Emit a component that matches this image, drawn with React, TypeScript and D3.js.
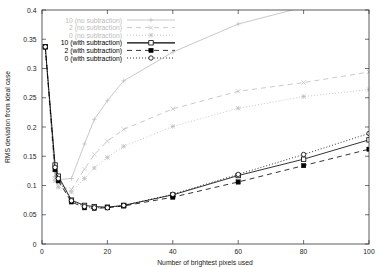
import React from 'react';
import * as d3 from 'd3';

const xs = [1, 4, 5, 9, 13, 16, 20, 25, 40, 60, 80, 100];

const noSub10 = [0.337, 0.115, 0.11, 0.112, 0.171, 0.213, 0.245, 0.279, 0.328, 0.376, 0.405, 0.43];
const noSub2 = [0.337, 0.112, 0.1, 0.093, 0.128, 0.153, 0.176, 0.196, 0.231, 0.261, 0.276, 0.294];
const noSub0 = [0.337, 0.108, 0.097, 0.089, 0.112, 0.13, 0.148, 0.167, 0.201, 0.232, 0.252, 0.264];
const withSub10 = [0.337, 0.135, 0.116, 0.075, 0.066, 0.064, 0.063, 0.066, 0.084, 0.117, 0.145, 0.178];
const withSub2 = [0.337, 0.127, 0.108, 0.072, 0.062, 0.061, 0.062, 0.065, 0.08, 0.106, 0.134, 0.162];
const withSub0 = [0.337, 0.131, 0.112, 0.074, 0.064, 0.062, 0.062, 0.066, 0.085, 0.119, 0.153, 0.189];

const xTicks = [0, 20, 40, 60, 80, 100];
const yTicks = [0, 0.05, 0.1, 0.15, 0.2, 0.25, 0.3, 0.35, 0.4];

const GRAY = '#bbbbbb';

const series = [
  { name: '10 (no subtraction)', values: noSub10, color: GRAY, dash: '', marker: 'plus' },
  { name: '2 (no subtraction)', values: noSub2, color: GRAY, dash: '5,4', marker: 'cross' },
  { name: '0 (no subtraction)', values: noSub0, color: GRAY, dash: '1,2', marker: 'star' },
  { name: '10 (with subtraction)', values: withSub10, color: '#000', dash: '', marker: 'square' },
  { name: '2 (with subtraction)', values: withSub2, color: '#000', dash: '5,4', marker: 'filled' },
  { name: '0 (with subtraction)', values: withSub0, color: '#000', dash: '1,2', marker: 'circle' },
];

const W = 382, H = 267;
const L = 42, R = 369, T = 10, B = 244;

function Marker({ type, x, y, color }) {
  const s = 2.2;
  switch (type) {
    case 'plus':
      return <path d={`M${x - s},${y}H${x + s}M${x},${y - s}V${y + s}`} stroke={color} strokeWidth={0.7} />;
    case 'cross':
      return <path d={`M${x - s},${y - s}L${x + s},${y + s}M${x - s},${y + s}L${x + s},${y - s}`} stroke={color} strokeWidth={0.7} />;
    case 'star':
      return <path d={`M${x - s},${y}H${x + s}M${x},${y - s}V${y + s}M${x - s},${y - s}L${x + s},${y + s}M${x - s},${y + s}L${x + s},${y - s}`} stroke={color} strokeWidth={0.7} />;
    case 'square':
      return <rect x={x - s} y={y - s} width={2 * s} height={2 * s} fill="#fff" stroke={color} strokeWidth={0.8} />;
    case 'filled':
      return <rect x={x - s} y={y - s} width={2 * s} height={2 * s} fill={color} stroke={color} strokeWidth={0.4} />;
    default:
      return <circle cx={x} cy={y} r={s} fill="#fff" stroke={color} strokeWidth={0.8} />;
  }
}

export default function App() {
  const x = d3.scaleLinear().domain([0, 100]).range([L, R]);
  const y = d3.scaleLinear().domain([0, 0.4]).range([B, T]);
  const line = d3.line<number>().x((_, i) => x(xs[i])).y(d => y(d));
  const font = 'Liberation Sans, Arial, sans-serif';
  const fs = 6.8;

  return (
    <svg width={W} height={H} style={{ position: 'absolute', left: 0, top: 0, background: '#fff' }} fontFamily={font}>
      <defs>
        <clipPath id="plot">
          <rect x={L} y={T} width={R - L} height={B - T} />
        </clipPath>
      </defs>
      {xTicks.map(t => (
        <g key={'x' + t}>
          <line x1={x(t)} x2={x(t)} y1={B} y2={B - 4} stroke="#333" strokeWidth={0.7} />
          <line x1={x(t)} x2={x(t)} y1={T} y2={T + 4} stroke="#333" strokeWidth={0.7} />
          <text x={x(t)} y={B + 9.5} fontSize={fs} textAnchor="middle" fill="#222">{t}</text>
        </g>
      ))}
      {yTicks.map(t => (
        <g key={'y' + t}>
          <line x1={L} x2={L + 4} y1={y(t)} y2={y(t)} stroke="#333" strokeWidth={0.7} />
          <line x1={R} x2={R - 4} y1={y(t)} y2={y(t)} stroke="#333" strokeWidth={0.7} />
          <text x={L - 5.5} y={y(t) + 2.5} fontSize={fs} textAnchor="end" fill="#222">{t}</text>
        </g>
      ))}
      <text x={205} y={H - 2} fontSize={fs} textAnchor="middle" fill="#222">Number of brightest pixels used</text>
      <text transform={`translate(10,117) rotate(-90)`} fontSize={fs} textAnchor="middle" fill="#222">RMS deviation from ideal case</text>

      {series.map((s, i) => {
        const ly = 20 + i * 7.6;
        return (
          <g key={'l' + i}>
            <text x={122} y={ly + 2.5} fontSize={fs} textAnchor="end" fill={s.color === '#000' ? '#000' : GRAY}>{s.name}</text>
            <line x1={127} x2={175} y1={ly} y2={ly} stroke={s.color} strokeWidth={s.marker === 'square' ? 1.2 : 0.8} strokeDasharray={s.dash} />
            <Marker type={s.marker} x={151} y={ly} color={s.color} />
          </g>
        );
      })}

      <g clipPath="url(#plot)">
        {series.map((s, i) => (
          <g key={'s' + i}>
            <path d={line(s.values) || ''} fill="none" stroke={s.color} strokeWidth={0.8} strokeDasharray={s.dash} />
            {s.values.map((v, j) => (
              <Marker key={j} type={s.marker} x={x(xs[j])} y={y(v)} color={s.color} />
            ))}
          </g>
        ))}
      </g>
      <rect x={L} y={T} width={R - L} height={B - T} fill="none" stroke="#333" strokeWidth={0.8} />
    </svg>
  );
}
